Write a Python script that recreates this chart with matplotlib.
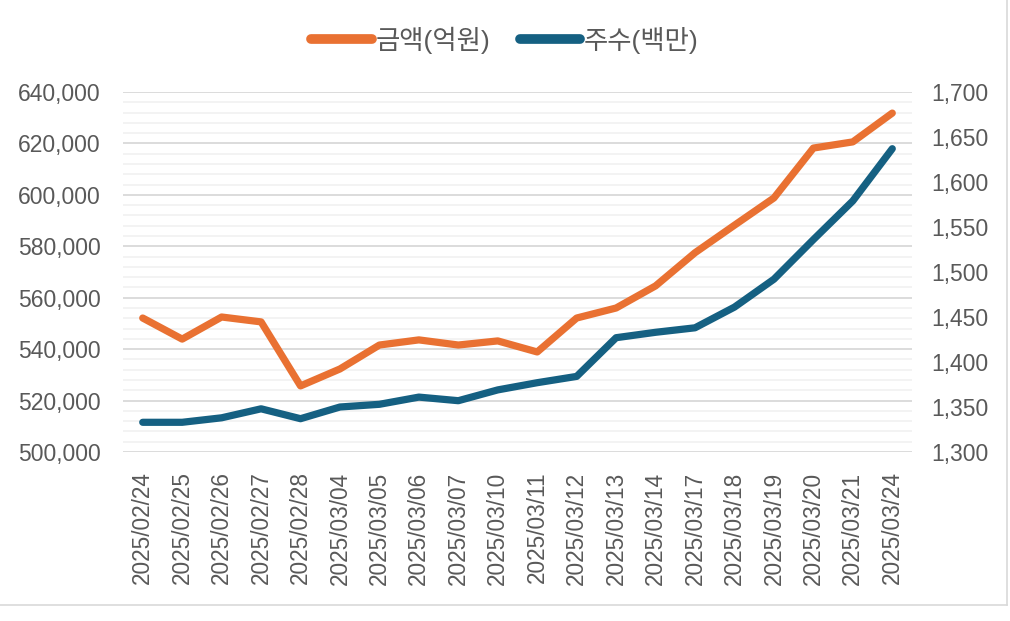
import matplotlib
matplotlib.use('Agg')
import matplotlib.pyplot as plt
from matplotlib.ticker import MultipleLocator, FuncFormatter
from matplotlib.lines import Line2D

plt.rcParams['font.family'] = ['Liberation Sans', 'Noto Sans CJK KR', 'DejaVu Sans']

dates = ['2025/02/24', '2025/02/25', '2025/02/26', '2025/02/27', '2025/02/28',
         '2025/03/04', '2025/03/05', '2025/03/06', '2025/03/07', '2025/03/10',
         '2025/03/11', '2025/03/12', '2025/03/13', '2025/03/14', '2025/03/17',
         '2025/03/18', '2025/03/19', '2025/03/20', '2025/03/21', '2025/03/24']
amount = [552100, 543900, 552500, 550600, 525700,
          532300, 541600, 543600, 541600, 543200,
          538900, 552100, 556000, 564600, 577500,
          588200, 598800, 618200, 620600, 631800]
shares = [1333, 1333, 1338, 1348, 1337,
          1350, 1353, 1361, 1357, 1369,
          1377, 1384, 1427, 1433, 1438,
          1461, 1492, 1536, 1579, 1637]

ORANGE = '#E97132'
NAVY = '#156082'
TXT = '#595959'

fig = plt.figure(figsize=(10.1, 6.21), dpi=100)
ax = fig.add_axes([123 / 1010, 1 - 452 / 621, (912 - 123) / 1010, (452 - 92) / 621])
ax2 = ax.twinx()

x = list(range(len(dates)))
l1, = ax.plot(x, amount, color=ORANGE, lw=5.2, solid_capstyle='round',
              solid_joinstyle='round', label='금액(억원)', zorder=3)
l2, = ax2.plot(x, shares, color=NAVY, lw=5.2, solid_capstyle='round',
               solid_joinstyle='round', label='주수(백만)', zorder=3)

ax.set_xlim(-0.5, len(dates) - 0.5)
ax.set_ylim(500000, 640000)
ax2.set_ylim(1300, 1700)

ax.yaxis.set_major_locator(MultipleLocator(20000))
ax.yaxis.set_minor_locator(MultipleLocator(4000))
ax2.yaxis.set_major_locator(MultipleLocator(50))
ax.yaxis.set_major_formatter(FuncFormatter(lambda v, p: f'{v:,.0f}'))
ax2.yaxis.set_major_formatter(FuncFormatter(lambda v, p: f'{v:,.0f}'))

ax.grid(True, which='major', axis='y', color='#D9D9D9', lw=1.3)
ax.grid(True, which='minor', axis='y', color='#F2F2F2', lw=1.3)
ax.set_axisbelow(True)

ax.set_xticks(x)
ax.set_xticklabels(dates, rotation=90)

for a in (ax, ax2):
    for s in a.spines.values():
        s.set_visible(False)
    a.tick_params(axis='both', which='both', length=0, colors=TXT, labelsize=16.5)
ax.tick_params(axis='y', pad=16)
ax2.tick_params(axis='y', pad=14)
ax.tick_params(axis='x', pad=14, labelsize=16.3)

leg = fig.legend(handles=[l1, l2], loc='center', bbox_to_anchor=(0.5, 1 - 40 / 621),
                 ncol=2, frameon=False, fontsize=19, labelcolor=TXT,
                 handlelength=2.3, handletextpad=0.15, columnspacing=1.1)
for h in leg.get_lines():
    h.set_linewidth(7)

# chart border
fig.add_artist(Line2D([0, 1007 / 1010], [1 - 605 / 621] * 2, color='#D9D9D9', lw=1.2))
fig.add_artist(Line2D([1007 / 1010] * 2, [1 - 605 / 621, 1], color='#D9D9D9', lw=1.2))

fig.savefig('out.png', dpi=100, facecolor='white')
